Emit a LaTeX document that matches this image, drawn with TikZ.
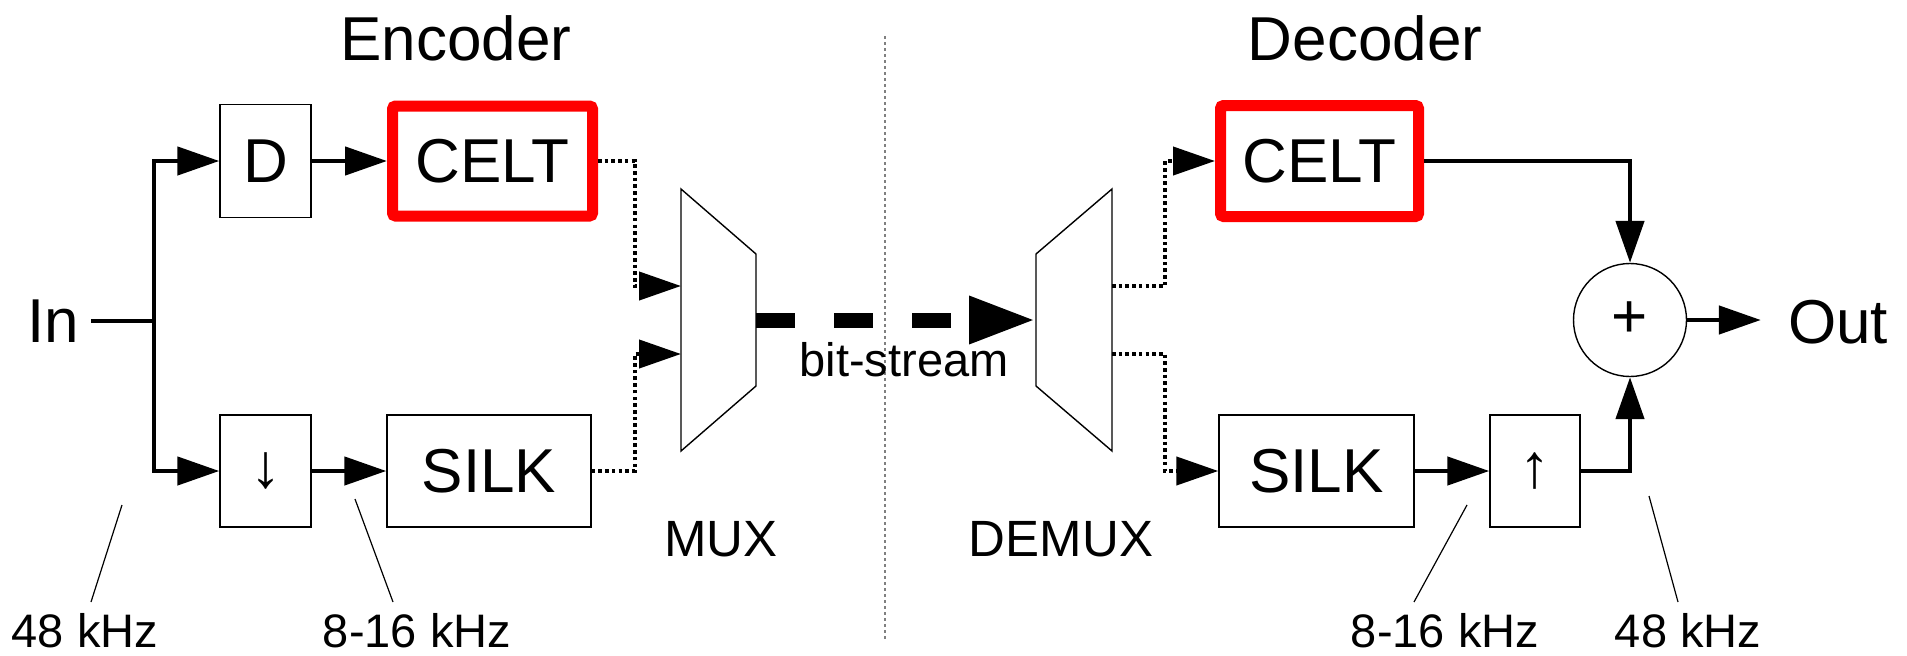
\documentclass[tikz,border=0pt]{standalone}
\usepackage{fontspec}
\setmainfont{Liberation Sans}
\usetikzlibrary{arrows.meta}
\begin{document}
\begin{tikzpicture}[x=1pt,y=-1pt,
  big/.style={font=\fontsize{62}{62}\selectfont},
  small/.style={font=\fontsize{47}{47}\selectfont, inner sep=0pt},
  mid/.style={font=\fontsize{51}{51}\selectfont},
  blk/.style={draw, line width=1.4pt, inner sep=0pt, big},
  redblk/.style={draw=red, line width=11pt, rounded corners=3pt, inner sep=0pt, big},
  arr/.style={line width=4.6pt, -{Triangle[length=42pt,width=28pt]}},
  dotarr/.style={line width=4.2pt, dash pattern=on 3.6pt off 3.1pt, -{Triangle[length=42pt,width=28pt]}},
  thinline/.style={line width=1.2pt},
  trap/.style={line width=1.4pt},
]
\useasboundingbox (0,0) rectangle (1907,656);

% titles and separator
\node[big] (enc) at (456,38) {Encoder};
\node[big] (dec) at (1365,38) {Decoder};
\coordinate (sepT) at (885,36);
\coordinate (sepB) at (885,641);
\draw[gray, line width=1.2pt, dash pattern=on 3pt off 3pt] (sepT) -- (sepB);

% encoder
\node[big, inner sep=12pt] (in) at (53,321) {In};
\coordinate (split) at (154,321);
\node[blk, minimum width=91pt, minimum height=113pt] (D) at (265.5,161) {D};
\node[redblk, minimum width=200pt, minimum height=110pt] (celtE) at (492.5,161) {CELT};
\node[blk, minimum width=91pt, minimum height=112pt] (down) at (265.5,471) {↓};
\node[blk, minimum width=204pt, minimum height=112pt] (silkE) at (489,471) {SILK};

\draw[line width=4.6pt] (in.east) -- (split);
\draw[arr] (split) |- (D.west);
\draw[arr] (split) |- (down.west);
\draw[arr] (D) -- (celtE);
\draw[arr] (down) -- (silkE);

% MUX
\coordinate (m1) at (681,189);
\coordinate (m2) at (756,254);
\coordinate (m3) at (756,386);
\coordinate (m4) at (681,451);
\draw[trap] (m1) -- (m2) -- (m3) -- (m4) -- cycle;
\coordinate (muxin1) at (681,286);
\coordinate (muxin2) at (681,354);
\coordinate (muxout) at (756,320);
\node[mid] (muxl) at (721,539) {MUX};

\draw[dotarr] (celtE.east) -- ++(37,0) |- (muxin1);
\draw[dotarr] (silkE.east) -- ++(43,0) |- (muxin2);

% DEMUX
\coordinate (d1) at (1036,254);
\coordinate (d2) at (1112,189);
\coordinate (d3) at (1112,451);
\coordinate (d4) at (1036,386);
\draw[trap] (d1) -- (d2) -- (d3) -- (d4) -- cycle;
\coordinate (demuxin) at (1036,320);
\coordinate (dmo1) at (1112,286);
\coordinate (dmo2) at (1112,354);
\node[mid] (demuxl) at (1061,539) {DEMUX};

% bit-stream
\draw[line width=15pt, dash pattern=on 39pt off 39pt, -{Triangle[length=67pt,width=44pt]}] (muxout) -- (demuxin);
\node[small] (bs) at (904,360) {bit-stream};

% decoder
\node[redblk, minimum width=198pt, minimum height=111pt] (celtD) at (1319.5,161) {CELT};
\node[blk, minimum width=195pt, minimum height=112pt] (silkD) at (1316.5,471) {SILK};
\node[blk, minimum width=90pt, minimum height=112pt] (up) at (1535,471) {↑};
\node[draw, circle, line width=1.4pt, minimum size=113pt, inner sep=0pt, big] (sum) at (1630,320) {+};
\node[big, inner sep=27pt] (out) at (1838,322) {Out};

\draw[dotarr] (dmo1) -- ++(53,0) |- (celtD.west);
\draw[dotarr] (dmo2) -- ++(53,0) |- (silkD.west);
\draw[arr] (silkD) -- (up);
\draw[arr] (up.east) -| (sum.south);
\draw[arr] (celtD.east) -| (sum.north);
\draw[arr] (sum.east) -- (sum.east -| out.west);

% rate labels
\node[small] (l1) at (85,631) {48 kHz};
\coordinate (l1a) at (91,602);
\coordinate (l1b) at (122,505);
\draw[thinline] (l1a) -- (l1b);
\node[small] (l2) at (417,631) {8-16 kHz};
\coordinate (l2a) at (393,602);
\coordinate (l2b) at (355,499);
\draw[thinline] (l2a) -- (l2b);
\node[small] (l3) at (1445,631) {8-16 kHz};
\coordinate (l3a) at (1414,602);
\coordinate (l3b) at (1467,505);
\draw[thinline] (l3a) -- (l3b);
\node[small] (l4) at (1688,631) {48 kHz};
\coordinate (l4a) at (1678,602);
\coordinate (l4b) at (1649,496);
\draw[thinline] (l4a) -- (l4b);
\end{tikzpicture}
\end{document}
